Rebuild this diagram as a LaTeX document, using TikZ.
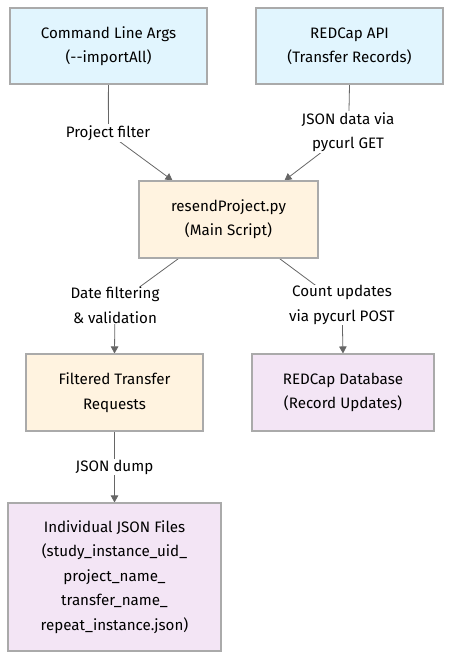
\documentclass[tikz,border=0pt]{standalone}
\usepackage{fontspec}
\setmainfont{Fira Sans}
\usepackage{tikz}
\usetikzlibrary{arrows.meta,backgrounds,positioning}
\definecolor{inblue}{HTML}{E1F5FE}
\definecolor{procorange}{HTML}{FFF3E0}
\definecolor{outpurple}{HTML}{F3E5F5}
\definecolor{boxline}{HTML}{AAAAAA}
\definecolor{flowline}{HTML}{666666}

\begin{document}
\begin{tikzpicture}
[x=1bp,y=-1bp,
font=\fontsize{15.2}{24.5}\selectfont,
box/.style={rectangle,draw=boxline,line width=1.1bp,align=center,inner sep=0pt},
lbl/.style={fill=white,align=center,inner sep=1bp},
flow/.style={draw=flowline,line width=0.8bp,-{Triangle[length=7bp,width=7.5bp]}}]
\useasboundingbox (0,0) rectangle (459,670);

\node (args) at (108.5,46)[box,fill=inblue,minimum width=197bp,minimum height=76bp] {Command Line Args\\(-{}-importAll)};
\node (api) at (349.5,46)[box,fill=inblue,minimum width=187bp,minimum height=76bp] {REDCap API\\(Transfer Records)};
\node (main) at (228.5,219.5)[box,fill=procorange,minimum width=179bp,minimum height=77bp] {resendProject.py\\(Main Script)};
\node (filt) at (114.5,392.5)[box,fill=procorange,minimum width=177bp,minimum height=77bp] {Filtered Transfer\\Requests};
\node (db) at (343,392.5)[box,fill=outpurple,minimum width=182bp,minimum height=77bp] {REDCap Database\\(Record Updates)};
\node (files) at (114.5,577)[box,fill=outpurple,minimum width=213bp,minimum height=148bp] {Individual JSON Files\\(study\_instance\_uid\_\\project\_name\_\\transfer\_name\_\\repeat\_instance.json)};

\node (l1) at (108,133)[lbl] {Project filter};
\node (l2) at (348,132)[lbl] {JSON data via\\pycurl GET};
\node (l3) at (115,305)[lbl] {Date filtering\\\& validation};
\node (l4) at (342,305)[lbl] {Count updates\\via pycurl POST};
\node (l5) at (114.5,467)[lbl] {JSON dump};

\begin{scope}[on background layer]
\draw[flow] (args.south) .. controls (108,112) and (109,120) .. (l1.center) -- ([xshift=-56bp]main.north);
\draw[flow] (api.south) .. controls (349,112) .. (l2.center) -- ([xshift=56bp]main.north);
\draw[flow] ([xshift=-50bp]main.south) -- (l3.center) -- (filt.north);
\draw[flow] ([xshift=51bp]main.south) -- (l4.center) -- (db.north);
\draw[flow] (filt.south) -- (l5.center) -- (files.north);
\end{scope}

\end{tikzpicture}
\end{document}
